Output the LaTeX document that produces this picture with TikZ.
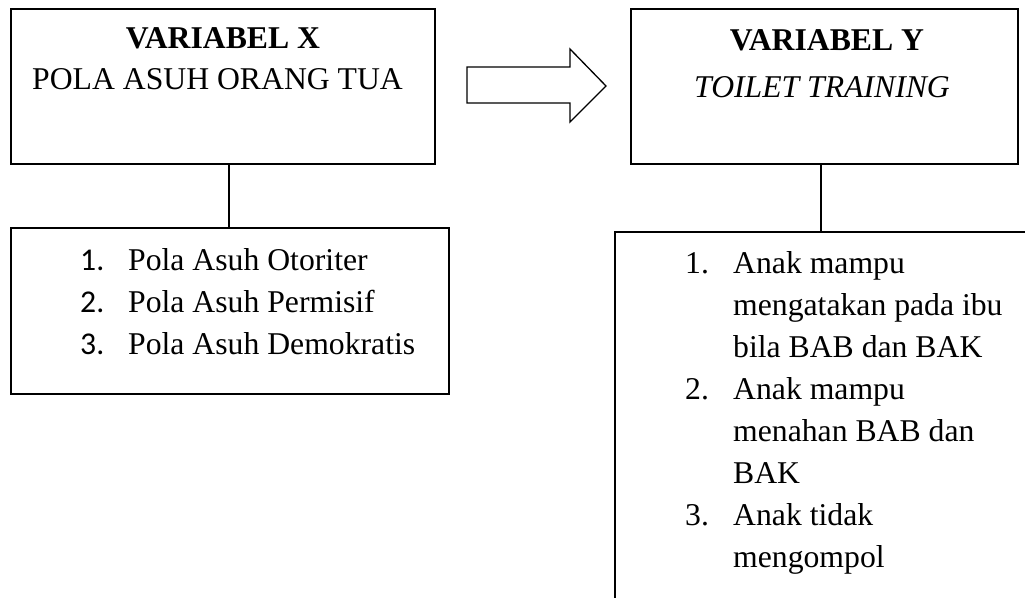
\documentclass[tikz,border=0pt]{standalone}
\usepackage{fontspec}
\setmainfont{Liberation Serif}
\newfontfamily\calib{Carlito}
\begin{document}
\begin{tikzpicture}[x=1pt,y=-1pt,
  box/.style={draw, line width=1.6pt, rectangle, inner sep=0pt},
  txt/.style={inner sep=0pt, font=\fontsize{31.7}{42}\selectfont},
  lbl/.style={txt, anchor=base west},
  num/.style={inner sep=0pt, anchor=base west, font=\calib\fontsize{31.7}{42}\selectfont},
  link/.style={line width=1.6pt}]
\clip (0,0) rectangle (1025,597);
\fill[white] (0,0) rectangle (1025,597);
% boxes
\node[box, minimum width=424pt, minimum height=155pt] (bx) at (223,86.5) {};
\node[box, minimum width=438pt, minimum height=166pt] (lx) at (230,311) {};
\node[box, minimum width=387pt, minimum height=155pt] (by) at (824.5,86.5) {};
\node[box, minimum width=425pt, minimum height=388pt] (ly) at (827.5,426) {};
% connectors
\coordinate (cx) at (229,0);
\coordinate (cy) at (821,0);
\draw[link] (bx.south -| cx) -- (lx.north -| cx);
\draw[link] (by.south -| cy) -- (ly.north -| cy);
% block arrow
\draw[line width=1.3pt, line join=miter, fill=white]
  (467,67) -- (570,67) -- (570,49) -- (606,86) -- (570,122) -- (570,103) -- (467,103) -- cycle;
% titles
\node[txt, anchor=base, font=\bfseries\fontsize{31.7}{42}\selectfont] (tx) at (223,48) {VARIABEL X};
\node[lbl] (sx) at (32,89) {POLA ASUH ORANG TUA};
\node[txt, anchor=base, font=\bfseries\fontsize{31.7}{42}\selectfont] (ty) at (827,50) {VARIABEL Y};
\node[lbl, font=\itshape\fontsize{31.7}{42}\selectfont] (sy) at (694,97) {TOILET TRAINING};
% left list
\node[num] (n1) at (80,270) {1.};
\node[lbl] (x1) at (128,270) {Pola Asuh Otoriter};
\node[num] (n2) at (80,312) {2.};
\node[lbl] (x2) at (128,312) {Pola Asuh Permisif};
\node[num] (n3) at (80,354) {3.};
\node[lbl] (x3) at (128,354) {Pola Asuh Demokratis};
% right list
\node[lbl] (m1) at (685,273) {1.};
\node[lbl] (y1a) at (733,273) {Anak mampu};
\node[lbl] (y1b) at (733,315) {mengatakan pada ibu};
\node[lbl] (y1c) at (733,357) {bila BAB dan BAK};
\node[lbl] (m2) at (685,399) {2.};
\node[lbl] (y2a) at (733,399) {Anak mampu};
\node[lbl] (y2b) at (733,441) {menahan BAB dan};
\node[lbl] (y2c) at (733,483) {BAK};
\node[lbl] (m3) at (685,525) {3.};
\node[lbl] (y3a) at (733,525) {Anak tidak};
\node[lbl] (y3b) at (733,567) {mengompol};
\end{tikzpicture}
\end{document}
